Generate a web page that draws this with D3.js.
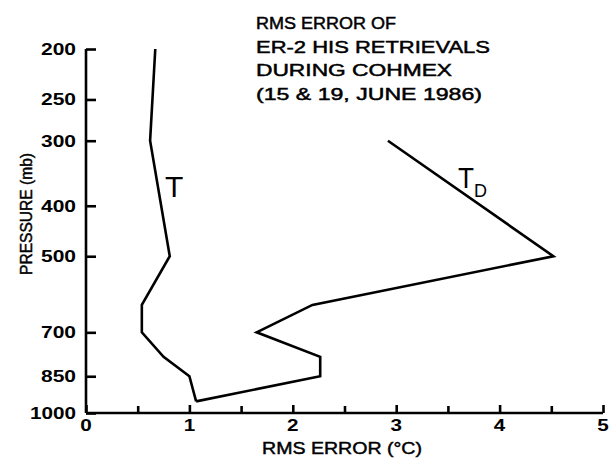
<!DOCTYPE html>
<html>
<head>
<meta charset="utf-8">
<script src="https://cdn.jsdelivr.net/npm/d3@7"></script>
<style>
  html, body { margin: 0; padding: 0; background: #fff; }
  svg { display: block; }
  text { font-family: "Liberation Sans", Arial, Helvetica, sans-serif; fill: #000; }
  .heavy { stroke: #000; stroke-width: 0.45px; }
</style>
</head>
<body>
<svg id="chart" width="609" height="470"></svg>
<script>
// Pressure levels (mb) and RMS error (°C) for each profile
const tempPressure = [200, 300, 500, 620, 700, 780, 850, 950];
const tempError    = [0.67, 0.62, 0.81, 0.54, 0.54, 0.75, 1.00, 1.065];

const dewPressure  = [300, 500, 620, 700, 780, 850, 950];
const dewError     = [2.92, 4.52, 2.19, 1.65, 2.265, 2.265, 1.065];

const xTickValues  = [0, 1, 2, 3, 4, 5];
const xMinorTicks  = [0.5, 1.5, 2.5, 3.5, 4.5];
const yTickValues  = [200, 250, 300, 400, 500, 700, 850, 1000];

const titleLines = [
  "RMS ERROR OF",
  "ER-2 HIS RETRIEVALS",
  "DURING COHMEX",
  "(15 & 19, JUNE 1986)"
];
const titleWidths = [140, 234, 196, 226];

const svg = d3.select("#chart");

const x = d3.scaleLinear().domain([0, 5]).range([86, 603]);
const y = d3.scaleLog().domain([200, 1000]).range([49, 413]);

const axisStroke = 2.6;

// Y axis: ticks point inward (to the right)
const yAxis = d3.axisRight(y).tickValues(yTickValues).tickSize(10).tickFormat("");
const gy = svg.append("g").attr("transform", `translate(${x(0)},0)`).call(yAxis);
gy.select(".domain").attr("d", `M0,${y(200)}V${y(1000)}`).attr("stroke-width", axisStroke);
gy.selectAll(".tick line").attr("stroke-width", axisStroke);

// Y tick labels, in the wide lettering used throughout the figure
svg.append("g").selectAll("text")
  .data(yTickValues)
  .join("text")
  .attr("x", 76)
  .attr("y", d => y(d) + 6)
  .attr("text-anchor", "end")
  .attr("font-size", 16.5)
  .attr("font-weight", "bold")
  .attr("textLength", d => String(d).length === 4 ? 46 : 35)
  .attr("lengthAdjust", "spacingAndGlyphs")
  .text(d => d);

// X axis: major and minor ticks point up into the plot
const xAxis = d3.axisTop(x).tickValues(xTickValues).tickSize(8).tickFormat("");
const gx = svg.append("g").attr("transform", `translate(0,${y(1000)})`).call(xAxis);
gx.select(".domain").attr("d", `M${x(0)},0H${x(5)}`).attr("stroke-width", axisStroke);
gx.selectAll(".tick line").attr("stroke-width", axisStroke);

const xMinor = d3.axisTop(x).tickValues(xMinorTicks).tickSize(7).tickFormat("");
const gxm = svg.append("g").attr("transform", `translate(0,${y(1000)})`).call(xMinor);
gxm.select(".domain").remove();
gxm.selectAll(".tick line").attr("stroke-width", axisStroke);

svg.append("g").selectAll("text")
  .data(xTickValues)
  .join("text")
  .attr("x", d => x(d))
  .attr("y", 431)
  .attr("text-anchor", "middle")
  .attr("font-size", 16.5)
  .attr("font-weight", "bold")
  .attr("textLength", 11.5)
  .attr("lengthAdjust", "spacingAndGlyphs")
  .text(d => d);

// Axis titles
svg.append("text")
  .attr("class", "heavy")
  .attr("x", 342)
  .attr("y", 454)
  .attr("text-anchor", "middle")
  .attr("font-size", 16.5)
  .attr("textLength", 160)
  .attr("lengthAdjust", "spacingAndGlyphs")
  .text("RMS ERROR (°C)");

svg.append("text")
  .attr("class", "heavy")
  .attr("transform", "translate(32,214) rotate(-90)")
  .attr("text-anchor", "middle")
  .attr("font-size", 16.5)
  .attr("textLength", 122)
  .attr("lengthAdjust", "spacingAndGlyphs")
  .text("PRESSURE (mb)");

// Title block
svg.append("g").selectAll("text")
  .data(titleLines)
  .join("text")
  .attr("class", "heavy")
  .attr("x", 256)
  .attr("y", (d, i) => 29 + i * 23.7)
  .attr("font-size", 16)
  .attr("textLength", (d, i) => titleWidths[i])
  .attr("lengthAdjust", "spacingAndGlyphs")
  .text(d => d);

// Profiles
const line = d3.line().x(d => x(d[1])).y(d => y(d[0]));

svg.append("path")
  .datum(d3.zip(tempPressure, tempError))
  .attr("d", line)
  .attr("fill", "none")
  .attr("stroke", "#000")
  .attr("stroke-width", 2.6)
  .attr("stroke-linejoin", "miter");

svg.append("path")
  .datum(d3.zip(dewPressure, dewError))
  .attr("d", line)
  .attr("fill", "none")
  .attr("stroke", "#000")
  .attr("stroke-width", 2.6)
  .attr("stroke-linejoin", "miter");

// Curve labels
svg.append("text")
  .attr("x", 165)
  .attr("y", 197)
  .attr("font-size", 30)
  .text("T");

const td = svg.append("text")
  .attr("x", 458)
  .attr("y", 188)
  .attr("font-size", 29);
td.append("tspan").attr("textLength", 16).attr("lengthAdjust", "spacingAndGlyphs").text("T");
td.append("tspan").attr("font-size", 18).attr("dy", 9).text("D");
</script>
</body>
</html>
